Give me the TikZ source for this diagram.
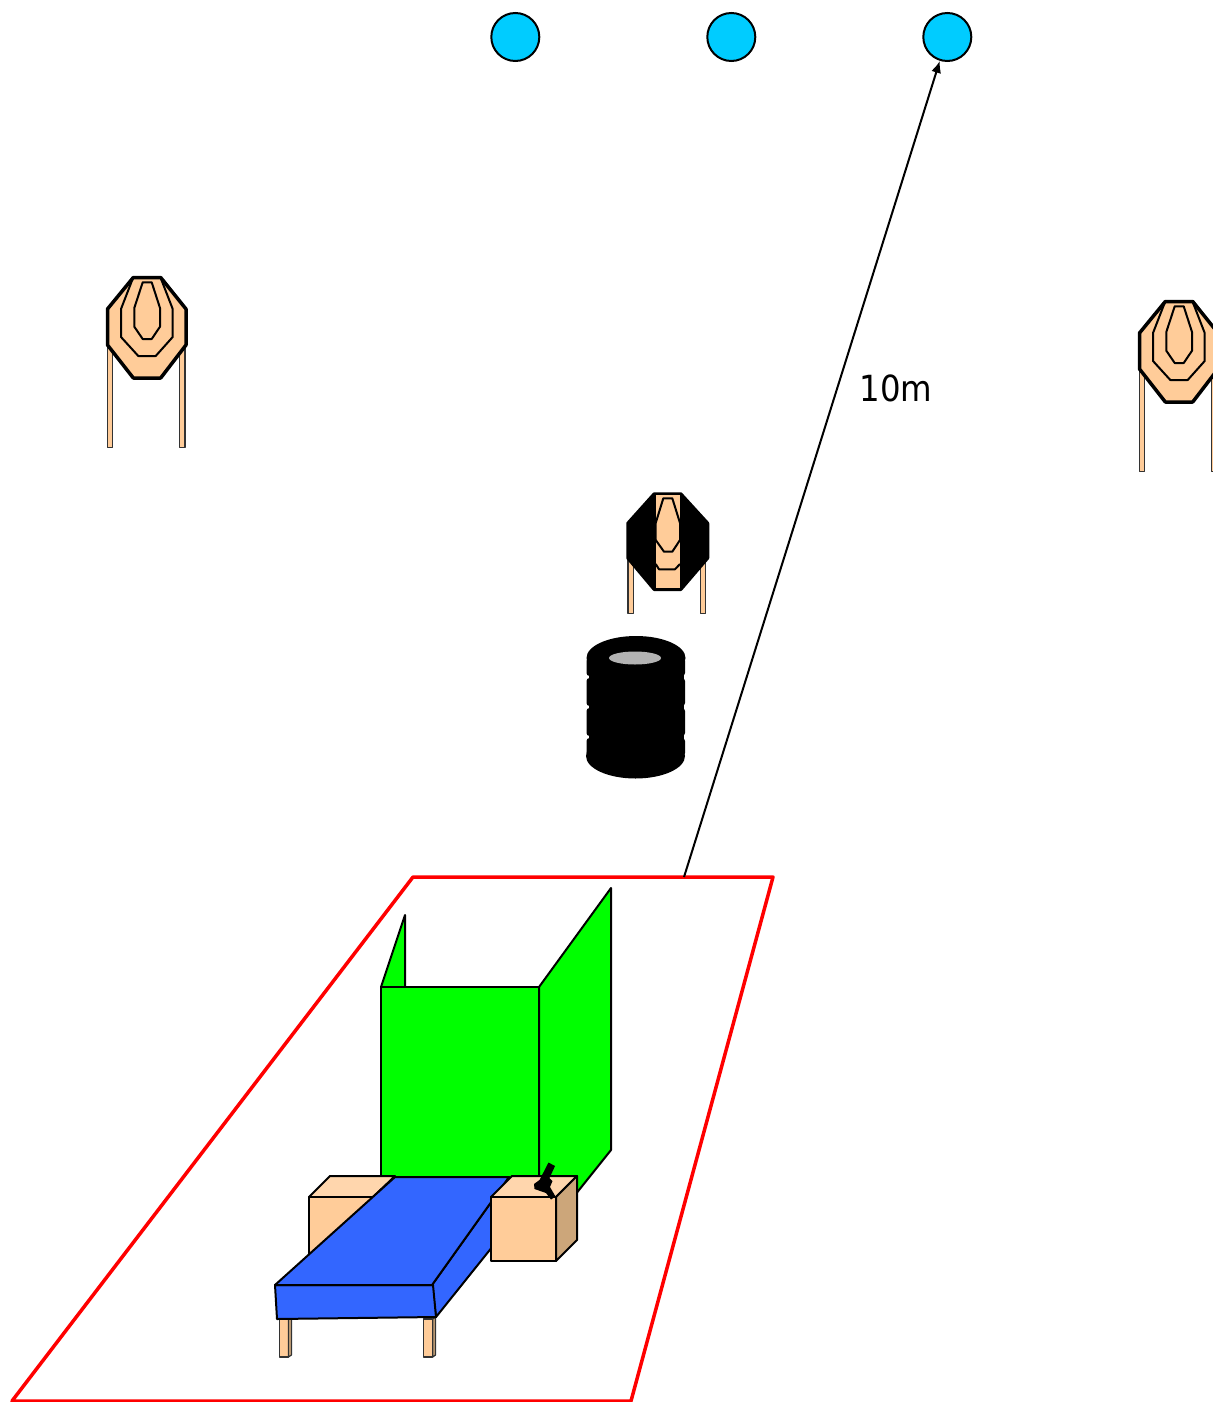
\documentclass[tikz,border=0pt]{standalone}
\usepackage{fontspec}
\usetikzlibrary{arrows.meta}
\setmainfont{DejaVu Sans Condensed}
\definecolor{peach}{HTML}{FFCC99}
\definecolor{peachtop}{HTML}{FFD6AD}
\definecolor{peachside}{HTML}{CCA67A}
\definecolor{cyanball}{HTML}{00CCFF}
\definecolor{tableblue}{HTML}{3366FF}
\definecolor{wallgreen}{HTML}{00FF00}
\definecolor{rangered}{HTML}{FF0000}
\definecolor{holegrey}{HTML}{B3B3B3}
\tikzset{
  ln/.style={draw=black,line width=1pt,line join=round},
  legln/.style={draw=black!80,line width=.6pt,line join=round,fill=peach},
  ball/.style={circle,draw=black,line width=1pt,fill=cyanball,minimum size=24pt,inner sep=0pt},
  wall/.style={ln,fill=wallgreen},
  tabletop/.style={ln,fill=tableblue},
  woodfront/.style={ln,fill=peach},
  woodtop/.style={ln,fill=peachtop},
  woodside/.style={ln,fill=peachside},
  thickln/.style={draw=black,line width=1.75pt,line join=round},
  target/.pic={
    \draw[legln] (107.2,345) rectangle (112.6,447.5);
    \draw[legln] (179.4,345) rectangle (185,447.5);
    \draw[thickln,fill=peach] (133.3,277.5)--(160.7,277.5)--(186,309)--(186,345)--(160.7,378)--(133.3,378)--(107.5,345)--(107.5,309)--cycle;
    \draw[ln] (133,278)--(121,309)--(121,337)--(138.3,356)--(155.7,356)--(172.7,337)--(172.7,309)--(160.7,278);
    \draw[ln] (142.7,282.3)--(151.7,282.3)--(160,308)--(160,326.7)--(151.7,339)--(142.7,339)--(134.3,326.7)--(134.3,308)--cycle;
  }
}
\begin{document}
\begin{tikzpicture}[x=0.5pt,y=-0.5pt]
\useasboundingbox (0,0) rectangle (1213,1402);
\clip (0,0) rectangle (1213,1402);
% balls
\node[ball] (c1) at (515.3,37) {};
\node[ball] (c2) at (731.3,37) {};
\node[ball] (c3) at (947.3,37) {};
% targets
\pic at (0,0) {target};
\pic at (1032,24) {target};
% small penalty target
\draw[legln] (628,558) rectangle (633.4,613.5);
\draw[legln] (700.2,558) rectangle (705.8,613.5);
\draw[thickln,fill=black] (654.3,494)--(680.7,494)--(707.5,523.3)--(707.5,558)--(680.7,589.3)--(654.3,589.3)--(628,558)--(628,523.3)--cycle;
\fill[peach] (655.7,495) rectangle (680.3,588.3);
\draw[ln] (663.3,498.3)--(672.3,498.3)--(680,523)--(680,540)--(672.3,551.7)--(664,551.7)--(655.7,540)--(655.7,523)--cycle;
\draw[ln] (655.7,564)--(659,569.3)--(675,569.3)--(680,564);
% tyres
\fill[black] (636,658) ellipse [x radius=49.5,y radius=22];
\fill[black] (635.5,756) ellipse [x radius=49.5,y radius=22.5];
\fill[black] (588.5,660) rectangle (683.5,756);
\foreach \ya/\yb in {658/676,678/706,708/736,738/756}{
  \fill[black,rounded corners=1.5pt] (586.5,\ya) rectangle (685,\yb);
}
\fill[holegrey] (635,658) ellipse [x radius=26,y radius=6.5];
% range box
\coordinate (rangeA) at (413,877);
\coordinate (rangeB) at (773,877);
\coordinate (rangeC) at (631,1401);
\coordinate (rangeD) at (12,1401);
\coordinate (arrowstart) at (684,877);
\draw[rangered,line width=1.75pt,line join=round] (rangeA)--(rangeB)--(rangeC)--(rangeD)--cycle;
\draw[black,line width=1pt,-{Latex[length=6pt,width=5pt]}] (arrowstart) -- (c3);
\node[font=\fontsize{18}{20}\selectfont] (dist) at (896,388) {10m};
% walls
\draw[wall] (381,987)--(405,915)--(405,987)--cycle;
\draw[wall] (539,987)--(611,888)--(611,1150)--(539,1240)--cycle;
\draw[wall] (381,987) rectangle (539,1250);
% left box
\draw[woodtop] (309,1197)--(330,1176)--(395,1176)--(373,1197)--cycle;
\draw[woodfront] (309,1197) rectangle (373,1261);
% table
\draw[legln] (279.5,1319) rectangle (288.5,1357);
\draw[legln,fill=peachside] (288.5,1319)--(291.5,1319)--(291.5,1355)--(288.5,1357)--cycle;
\draw[legln] (423.5,1319) rectangle (432.7,1357);
\draw[legln,fill=peachside] (432.7,1319)--(435.5,1317)--(435.5,1355)--(432.7,1357)--cycle;
\draw[tabletop] (432,1285)--(509,1177)--(509,1226)--(436,1317)--cycle;
\draw[tabletop] (275,1285)--(433,1285)--(436,1317)--(277,1319)--cycle;
\draw[tabletop] (275,1285)--(395,1177)--(509,1177)--(432,1285)--cycle;
% right box
\draw[woodtop] (491,1197)--(512,1176)--(577,1176)--(556,1197)--cycle;
\draw[woodside] (556,1197)--(577,1176)--(577,1240)--(556,1261)--cycle;
\draw[woodfront] (491,1197) rectangle (556,1261);
% pistol
\fill[black] (548.5,1162.5)--(555,1166)--(549.5,1178)--(552.5,1181)--(550,1187)--(555.5,1196.5)--(551,1199.5)--(546,1193)--(534.5,1189)--(534,1184)--(539.5,1180)--cycle;
\end{tikzpicture}
\end{document}
